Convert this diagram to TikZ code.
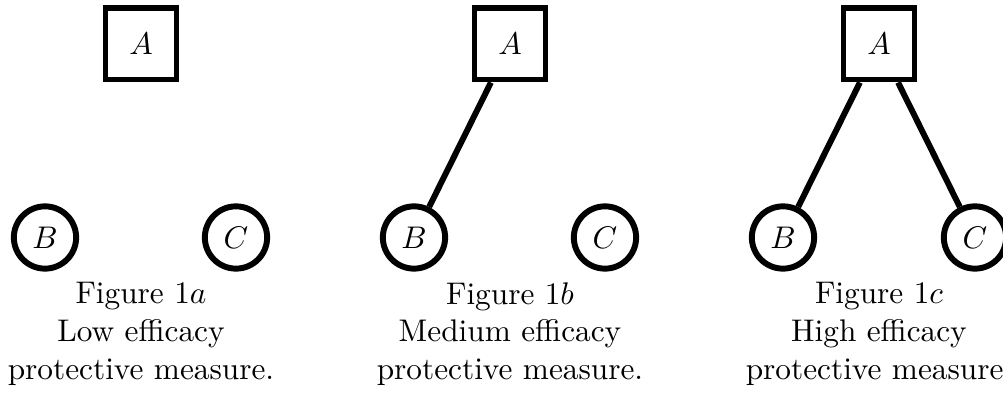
\documentclass[tikz,border=0pt]{standalone}
\begin{document}
\begin{tikzpicture}[x=0.3195pt,y=-0.3195pt,
  sqnode/.style={draw,line width=1.9pt,rectangle,minimum size=22.7pt,inner sep=0pt},
  cirnode/.style={draw,line width=1.9pt,circle,minimum size=19.9pt,inner sep=0pt},
  conn/.style={line width=1.9pt},
  captxt/.style={align=center,inner sep=0pt,anchor=north}]
\useasboundingbox (0,0) rectangle (1003,396);
% panel a
\node[sqnode] (A1) at (141,44) {$A$};
\node[cirnode] (B1) at (45,237.5) {$B$};
\node[cirnode] (C1) at (236,237.5) {$C$};
\node[captxt] (T1) at (141,282) {Figure 1$a$\\Low efficacy\\protective measure.};
% panel b
\node[sqnode] (A2) at (510,44) {$A$};
\node[cirnode] (B2) at (414,237.5) {$B$};
\node[cirnode] (C2) at (605,237.5) {$C$};
\node[captxt] (T2) at (510,282) {Figure 1$b$\\Medium efficacy\\protective measure.};
\draw[conn] (A2) -- (B2);
% panel c
\node[sqnode] (A3) at (879,44) {$A$};
\node[cirnode] (B3) at (783,237.5) {$B$};
\node[cirnode] (C3) at (975,237.5) {$C$};
\node[captxt] (T3) at (879,282) {Figure 1$c$\\High efficacy\\protective measure.};
\draw[conn] (A3) -- (B3);
\draw[conn] (A3) -- (C3);
\end{tikzpicture}
\end{document}
